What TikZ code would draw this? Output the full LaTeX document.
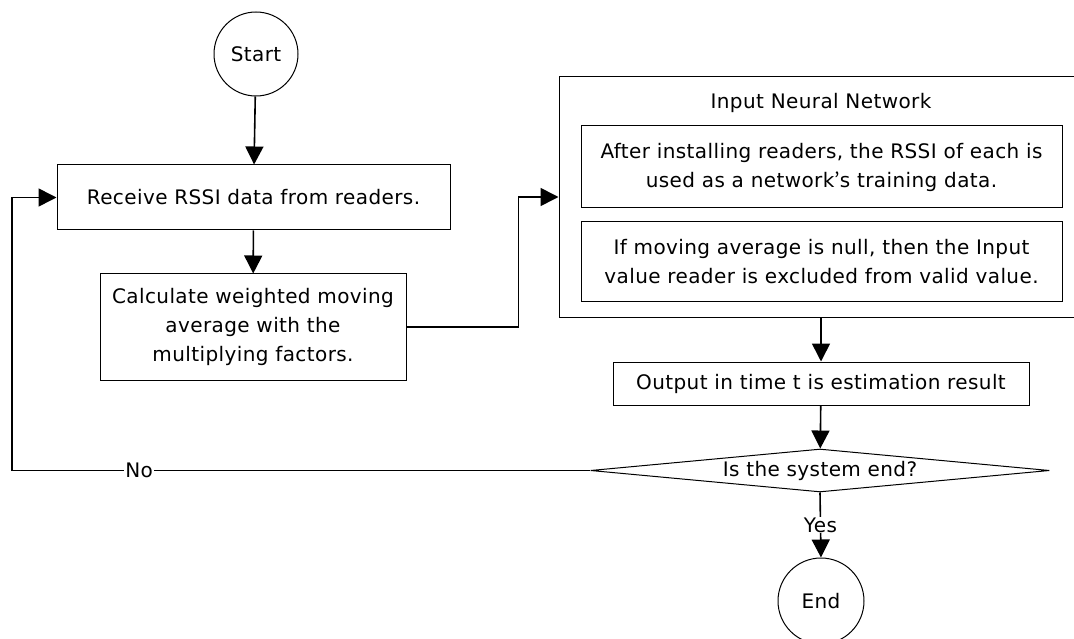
\documentclass[tikz,border=0pt]{standalone}
\usepackage{fontspec}
\setmainfont[LetterSpace=2]{DejaVu Sans}
\newfontfamily\cjk{Noto Sans CJK JP}
\usetikzlibrary{shapes.geometric,arrows.meta}

\begin{document}
\begin{tikzpicture}
  [x=1pt,y=-1pt,font=\fontsize{20}{29}\selectfont,
   box/.style={draw,line width=1pt,inner sep=0pt,align=center},
   term/.style={draw,line width=1pt,circle,inner sep=0pt},
   flow/.style={line width=1.6pt,-{Triangle[length=18pt,width=18pt]}},
   lbl/.style={fill=white,inner sep=1pt}]

  \useasboundingbox (0,0) rectangle (1074,639);

  \node[term,minimum size=84pt] (start) at (256,54) {Start};
  \node[box,minimum width=393pt,minimum height=65pt] (recv) at (253.5,197.5) {Receive RSSI data from readers.};
  \node[box,minimum width=306pt,minimum height=106pt] (calc) at (253,327)
    {Calculate weighted moving\\average with the\\multiplying factors.};
  \node[box,minimum width=524pt,minimum height=240pt] (nn) at (821,197) {};
  \node (nntitle) at (821,103) {Input Neural Network};
  \node[box,minimum width=481pt,minimum height=82pt] (in1) at (821.5,167)
    {After installing readers, the RSSI of each is\\used as a network{\cjk ’}s training data.};
  \node[box,minimum width=481pt,minimum height=79pt] (in2) at (821.5,261.5)
    {If moving average is null, then the Input\\value reader is excluded from valid value.};
  \node[box,minimum width=416pt,minimum height=43pt] (out) at (821,383.5) {Output in time t is estimation result};
  \node[box,shape=diamond,aspect=10.7,minimum width=459pt,minimum height=43pt] (dec) at (820,470.5) {Is the system end?};
  \node[term,minimum size=86pt] (stop) at (821,601) {End};
  \coordinate (back) at (12,470.5);

  \foreach \from/\to in {start/recv,recv/calc,nn/out,out/dec}
    \draw[flow] (\from) -- (\to);
  \draw[flow] (calc.east) -- ++(112,0) |- (nn.west);
  \draw[flow] (dec.west) -- node[lbl,pos=0.78] {No} (back) |- (recv.west);
  \draw[flow] (dec.south) -- node[lbl,pos=0.5] {Yes} (stop.north);
\end{tikzpicture}
\end{document}
